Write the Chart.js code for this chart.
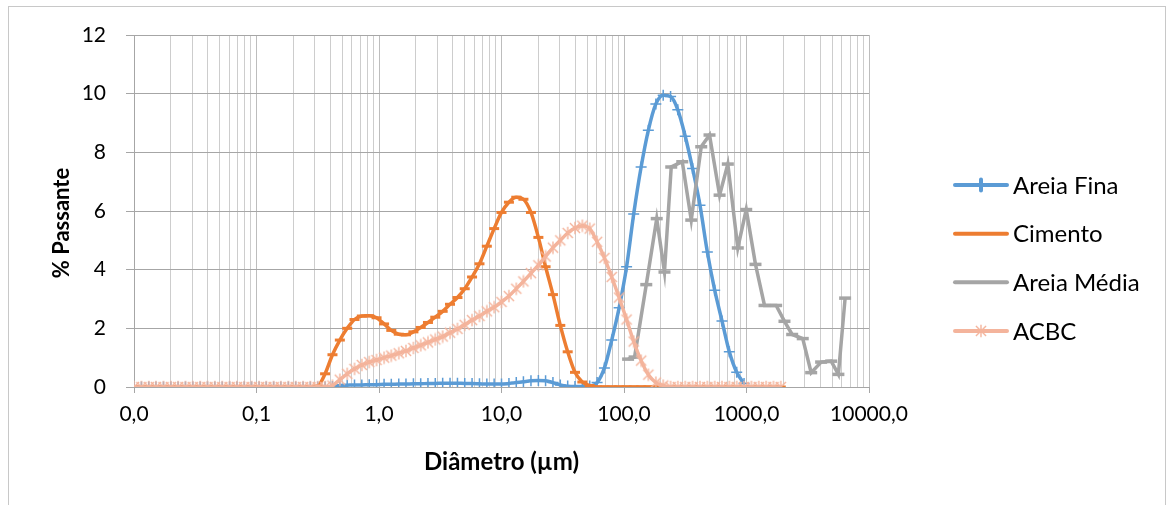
<!DOCTYPE html>
<html>
<head>
<meta charset="utf-8">
<script src="https://cdn.jsdelivr.net/npm/chart.js@4.4.1/dist/chart.umd.min.js"></script>
<style>
  html, body { margin: 0; padding: 0; background: #ffffff; }
  #frame { position: absolute; left: 8px; top: 6px; width: 1158px; height: 530px; border: 1px solid #c8c8c8; box-sizing: border-box; }
  #wrap { position: absolute; left: 0; top: 0; width: 1168px; height: 505px; }
</style>
</head>
<body>
<div id="frame"></div>
<div id="wrap"><canvas id="grafico" width="1168" height="505"></canvas></div>
<script>
// Diâmetros das classes granulométricas (µm), malha comum das curvas contínuas
const diametros = [
  0.01, 0.0115, 0.0132, 0.0151, 0.0174, 0.0200, 0.0229, 0.0263, 0.0302, 0.0347,
  0.0398, 0.0457, 0.0525, 0.0603, 0.0692, 0.0794, 0.0912, 0.105, 0.120, 0.138,
  0.158, 0.182, 0.209, 0.240, 0.275, 0.316, 0.363, 0.417, 0.479, 0.550,
  0.631, 0.724, 0.832, 0.955, 1.10, 1.26, 1.45, 1.66, 1.91, 2.19,
  2.51, 2.88, 3.31, 3.80, 4.37, 5.01, 5.75, 6.61, 7.59, 8.71,
  10.0, 11.5, 13.2, 15.1, 17.4, 20.0, 22.9, 26.3, 30.2, 34.7,
  39.8, 45.7, 52.5, 60.3, 69.2, 79.4, 91.2, 105, 120, 138,
  158, 182, 209, 240, 275, 316, 363, 417, 479, 550,
  631, 724, 832, 955, 1096, 1259, 1445, 1660, 1905
];

// % passante por classe — Areia Fina (até 955 µm)
const areiaFina = [
  0, 0, 0, 0, 0, 0, 0, 0, 0, 0,
  0, 0, 0, 0, 0, 0, 0, 0, 0, 0,
  0, 0, 0, 0, 0, 0, 0, 0.02, 0.05, 0.06,
  0.07, 0.07, 0.08, 0.08, 0.09, 0.09, 0.10, 0.10, 0.11, 0.11,
  0.12, 0.12, 0.13, 0.13, 0.13, 0.12, 0.12, 0.11, 0.10, 0.10,
  0.10, 0.12, 0.15, 0.18, 0.21, 0.22, 0.21, 0.15, 0.07, 0.03,
  0.02, 0.02, 0.03, 0.15, 0.65, 1.6, 2.7, 4.1, 5.9, 7.5,
  8.75, 9.65, 9.95, 9.9, 9.45, 8.55, 7.45, 6.2, 4.6, 3.3,
  2.25, 1.2, 0.5, 0.12
];

// % passante por classe — Cimento
const cimento = [
  0, 0, 0, 0, 0, 0, 0, 0, 0, 0,
  0, 0, 0, 0, 0, 0, 0, 0, 0, 0,
  0, 0, 0, 0, 0, 0.03, 0.45, 1.1, 1.6, 2.0,
  2.3, 2.42, 2.43, 2.36, 2.15, 1.93, 1.8, 1.78, 1.88, 2.03,
  2.2, 2.38, 2.58, 2.82, 3.05, 3.35, 3.75, 4.2, 4.8, 5.4,
  5.95, 6.3, 6.47, 6.4, 5.95, 5.1, 4.1, 3.15, 2.1, 1.2,
  0.5, 0.17, 0.05, 0, 0, 0, 0, 0, 0, 0,
  0, 0, 0, 0, 0, 0, 0, 0, 0, 0,
  0, 0, 0, 0, 0, 0, 0, 0, 0
];

// % passante por classe — ACBC
const acbc = [
  0, 0, 0, 0, 0, 0, 0, 0, 0, 0,
  0, 0, 0, 0, 0, 0, 0, 0, 0, 0,
  0, 0, 0, 0, 0, 0, 0, 0.05, 0.25, 0.45,
  0.62, 0.75, 0.85, 0.92, 1.0, 1.07, 1.15, 1.23, 1.33, 1.42,
  1.52, 1.62, 1.72, 1.85, 1.98, 2.12, 2.28, 2.42, 2.58, 2.72,
  2.9, 3.1, 3.35, 3.6, 3.88, 4.15, 4.45, 4.75, 5.0, 5.25,
  5.42, 5.5, 5.4, 4.95, 4.4, 3.75, 3.05, 2.3, 1.55, 0.9,
  0.42, 0.15, 0.05, 0, 0, 0, 0, 0, 0, 0,
  0, 0, 0, 0, 0, 0, 0, 0, 0
];

// Areia Média: peneiramento com classes próprias
const diametrosAreiaMedia = [
  108, 122, 152, 185, 214, 243, 299, 354, 427, 499,
  603, 704, 849, 995, 1184, 1403, 1746, 2042, 2360, 2878,
  3373, 4066, 4910, 5625, 6383
];
const areiaMedia = [
  0.95, 1.02, 3.49, 5.74, 3.92, 7.50, 7.68, 5.69, 8.19, 8.59,
  6.54, 7.60, 4.74, 6.05, 4.18, 2.78, 2.78, 2.24, 1.79, 1.65,
  0.49, 0.85, 0.88, 0.43, 3.03
];

// Marcas do eixo: décadas rotuladas, subdivisões 2..9 apenas como grade
const decadas = [0.01, 0.1, 1, 10, 100, 1000, 10000];
const yMin = 0, yMax = 12, yPasso = 2;
const tituloY = '% Passante';

const FONTE = 'Lato';
Chart.defaults.font.family = FONTE;
Chart.defaults.color = '#000000';

function ehDecada(v) {
  const l = Math.log10(v);
  return Math.abs(l - Math.round(l)) < 1e-9;
}
function rotuloDecada(v) {
  return v.toFixed(1).replace('.', ',');
}
function pares(xs, ys) {
  return ys.map((y, i) => ({ x: xs[i], y: y }));
}

// Marcador em asterisco (X + traço vertical)
function marcadorAsterisco(cor, tam) {
  const c = document.createElement('canvas');
  c.width = tam; c.height = tam;
  const g = c.getContext('2d');
  g.strokeStyle = cor;
  g.lineWidth = 1.4;
  const m = tam / 2, r = tam / 2 - 0.8;
  g.beginPath();
  g.moveTo(m - r * 0.82, m - r * 0.82); g.lineTo(m + r * 0.82, m + r * 0.82);
  g.moveTo(m + r * 0.82, m - r * 0.82); g.lineTo(m - r * 0.82, m + r * 0.82);
  g.moveTo(m, m - r); g.lineTo(m, m + r);
  g.stroke();
  return c;
}

const corFina = '#5B9BD5';
const corCimento = '#ED7D31';
const corMedia = '#A5A5A5';
const corAcbc = '#F4B49C';
const estrela = marcadorAsterisco(corAcbc, 14);

// Título do eixo vertical, ligeiramente abaixo do centro da área de plotagem
const tituloVertical = {
  id: 'tituloVertical',
  afterDraw(chart) {
    const ctx = chart.ctx;
    const area = chart.chartArea;
    ctx.save();
    ctx.translate(62, (area.top + area.bottom) / 2 + 12);
    ctx.rotate(-Math.PI / 2);
    ctx.fillStyle = '#000000';
    ctx.font = 'bold 22px ' + FONTE;
    ctx.textAlign = 'center';
    ctx.textBaseline = 'middle';
    ctx.fillText(tituloY, 0, 0);
    ctx.restore();
  }
};

// Legenda lateral desenhada no próprio canvas
const legendaLateral = {
  id: 'legendaLateral',
  afterDraw(chart) {
    const ctx = chart.ctx;
    const area = chart.chartArea;
    const x0 = area.right + 86, x1 = x0 + 52, xt = x1 + 6;
    const yc = (area.top + area.bottom) / 2 + 47;
    const passo = 48.6;
    const n = chart.data.datasets.length;
    chart.data.datasets.forEach((ds, i) => {
      const y = yc + (i - (n - 1) / 2) * passo;
      ctx.save();
      ctx.strokeStyle = ds.borderColor;
      ctx.lineWidth = 4;
      ctx.lineCap = 'round';
      ctx.beginPath(); ctx.moveTo(x0, y); ctx.lineTo(x1, y); ctx.stroke();
      if (ds.legendMarker) {
        ctx.strokeStyle = ds.pointBorderColor || ds.borderColor;
        ctx.fillStyle = ds.pointBorderColor || ds.borderColor;
        Chart.helpers.drawPoint(ctx, {
          pointStyle: ds.pointStyle, radius: ds.pointRadius, rotation: 0,
          borderWidth: ds.pointBorderWidth
        }, (x0 + x1) / 2, y);
      }
      ctx.fillStyle = '#000000';
      ctx.font = '24px ' + FONTE;
      ctx.textBaseline = 'middle';
      ctx.textAlign = 'left';
      ctx.fillText(ds.label, xt, y + 1);
      ctx.restore();
    });
  }
};

const ctx = document.getElementById('grafico').getContext('2d');
new Chart(ctx, {
  type: 'line',
  data: {
    datasets: [
      {
        label: 'Areia Fina',
        data: pares(diametros, areiaFina),
        borderColor: corFina, backgroundColor: corFina,
        borderWidth: 3.5, cubicInterpolationMode: 'monotone',
        pointStyle: 'cross', pointRadius: 5.5, pointBorderWidth: 1.5,
        pointBorderColor: corFina,
        legendMarker: true,
        order: 3
      },
      {
        label: 'Cimento',
        data: pares(diametros, cimento),
        borderColor: corCimento, backgroundColor: corCimento,
        borderWidth: 3.5, cubicInterpolationMode: 'monotone',
        pointStyle: 'line', pointRadius: 5, pointBorderWidth: 3,
        pointBorderColor: corCimento,
        legendMarker: false,
        order: 2
      },
      {
        label: 'Areia Média',
        data: pares(diametrosAreiaMedia, areiaMedia),
        borderColor: corMedia, backgroundColor: corMedia,
        borderWidth: 3.5, tension: 0,
        pointStyle: 'line', pointRadius: 6, pointBorderWidth: 3.5,
        pointBorderColor: corMedia,
        legendMarker: false,
        order: 1
      },
      {
        label: 'ACBC',
        data: pares(diametros, acbc),
        borderColor: corAcbc, backgroundColor: corAcbc,
        borderWidth: 3.5, cubicInterpolationMode: 'monotone',
        pointStyle: estrela, pointRadius: 7, pointBorderWidth: 1.4,
        pointBorderColor: corAcbc,
        legendMarker: true,
        order: 0
      }
    ]
  },
  options: {
    responsive: false,
    animation: false,
    devicePixelRatio: 1,
    layout: { padding: { left: 0, top: 35, right: 299, bottom: 0 } },
    plugins: {
      legend: { display: false },
      tooltip: { enabled: false }
    },
    scales: {
      x: {
        type: 'logarithmic',
        min: decadas[0],
        max: decadas[decadas.length - 1],
        afterBuildTicks(scale) {
          const t = [];
          for (let d = 0; d < decadas.length - 1; d++) {
            for (let m = 1; m <= 9; m++) {
              t.push({ value: Number((m * decadas[d]).toPrecision(3)) });
            }
          }
          t.push({ value: decadas[decadas.length - 1] });
          scale.ticks = t;
        },
        afterFit(scale) { scale.height = 118; },
        ticks: {
          autoSkip: false, maxRotation: 0, minRotation: 0,
          padding: 9,
          font: { size: 21 },
          color: '#000000',
          callback: (v) => ehDecada(v) ? rotuloDecada(v) : ''
        },
        grid: {
          color: (c) => (c.tick && ehDecada(c.tick.value)) ? '#BDBDBD' : '#CDCDCD',
          tickColor: (c) => (c.tick && ehDecada(c.tick.value)) ? '#A6A6A6' : 'rgba(0,0,0,0)',
          tickLength: 6,
          lineWidth: 1
        },
        border: { color: '#A6A6A6', width: 1 },
        title: {
          display: true,
          text: 'Diâmetro (µm)',
          color: '#000000',
          font: { size: 24, weight: 'bold' },
          padding: { top: 0, bottom: 28 }
        }
      },
      y: {
        min: yMin, max: yMax,
        afterFit(scale) { scale.width = 134; },
        ticks: { stepSize: yPasso, padding: 20, font: { size: 21 }, color: '#000000' },
        grid: { color: '#A6A6A6', tickColor: '#A6A6A6', tickLength: 8, lineWidth: 1 },
        border: { color: '#A6A6A6', width: 1 },
        title: { display: false }
      }
    }
  },
  plugins: [legendaLateral, tituloVertical]
});
</script>
</body>
</html>
